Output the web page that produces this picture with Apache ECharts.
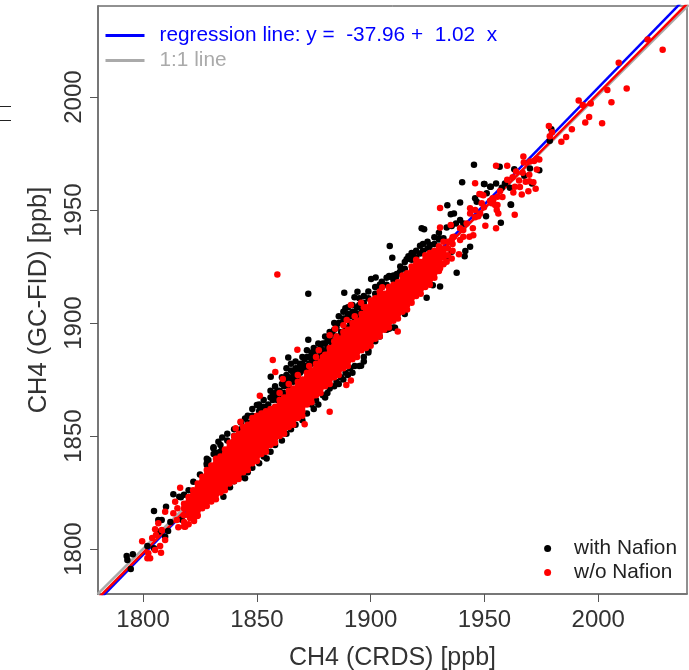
<!DOCTYPE html>
<html lang="en">
<head>
<meta charset="utf-8">
<script src="https://cdn.jsdelivr.net/npm/echarts@6/dist/echarts.min.js"></script>
<style>html,body{margin:0;padding:0;background:#fff}</style>
</head>
<body>
<div id="main" style="width:689px;height:670px"></div>
<script>
var xTicks = [1800, 1850, 1900, 1950, 2000];
var yTicks = [1800, 1850, 1900, 1950, 2000];

// line ends
var regressionLine = [[1780, 1776.8], [2040, 2045.5]];
var fitLine = [[1780, 1778], [2040, 2042.3]];
var oneToOneLine = [[1780, 1780], [2040, 2041]];

// single dots [x, y]
var blackDots = [
  [1792.8,1796.9],[1793.1,1795.1],[1795.5,1797.7],[1794.6,1791.2],[1801.9,1801.3],[1804.8,1816.8],[1813.3,1824.2],[1810.1,1818.7],
  [1825,1833],[1822.1,1829.8],[1815.9,1823.1],[1816.6,1822.9],[1806.7,1812.8],[1808.2,1812.8],[1806.7,1807.7],[1809.7,1805.4],[1804.8,1800.3],
  [1833.1,1847.5],[1834.8,1849.4],[1830.9,1844.6],[1828.7,1839.4],[1828,1837.2],[1832.6,1842.6],[1834.6,1843.8],[1844.8,1857.8],[1850,1863.7],
  [1851.4,1862.2],[1844.8,1831.3],[1854.3,1840.1],[1838.2,1827.3],[1835.3,1823.1],[1863.8,1884.8],[1856.1,1876.2],[1872.6,1892.6],[1872.6,1913],
  [1888.4,1913.4],[1894.2,1913.9],[1892.9,1911.4],[1888.9,1906.5],[1900.2,1919.5],[1902.2,1920.2],[1908.1,1920.8],[1911.5,1921.7],[1895.8,1881.1],
  [1908.1,1897.5],[1910.7,1897.9],[1908.4,1934.1],[1909.5,1928.9],[1908.5,1920.5],[1904.9,1918.3],[1911.2,1920.5],[1912.9,1922.7],[1918.8,1930],
  [1916.6,1929.6],[1915.8,1928.2],[1921.7,1934.2],[1926.1,1934.5],[1925.7,1933.3],[1922.4,1941.9],[1923.5,1941.5],[1920.2,1927.1],[1921.7,1930.8],
  [1924.6,1923.5],[1924.6,1911.2],[1927.3,1916.7],[1930.5,1916.2],[1937.8,1922.3],[1930.2,1937.5],[1932,1937.5],[1933.4,1942.3],[1935.6,1942.9],
  [1937.5,1944.1],[1939.3,1945.6],[1940.7,1944.1],[1935.2,1948.1],[1936.6,1948.5],[1933.7,1952.1],[1939.3,1953.4],[1945.9,1955.2],[1946.6,1953.7],
  [1940.2,1962.3],[1945.4,1970],[1943.7,1933.8],[1941.6,1931.9],[1941.3,1929.6],[1933.4,1929.3],[1935.6,1931.5],[1950,1961.5],[1952.5,1960.3],
  [1949.8,1961.5],[1952.8,1960.3],[1955.1,1961.8],[1959,1961.8],[1961.2,1959.9],[1957.6,1959.9],[1951,1957.4],[1956.7,1969.2],[1963.1,1968.1],
  [1970,1968.4],[1974.1,1967.6],[1967.5,1965.2],[1970.9,1961.8],[1961.5,1952.5],[1957.2,1944.4],[1961.7,1952.3],[1950.7,1947.3],[1979.4,1985.8],[1978.7,1980.7],
  [1818,1824],[1820,1826],[1817,1813],[1812,1812],[1811,1808]
];
var redDots = [
  [2028.3,2020.9],[2021.7,2025.5],[2009,2015.2],[2012.5,2003.8],[2004,2003.1],[2005.8,1997.7],[1991.4,1998.5],[1993.2,1996.5],[1996.7,1997.2],
  [1996,1991.2],[1994.3,1988.8],[2001.7,1988.4],[1988.4,1985.8],[1985.9,1982.3],[1983.8,1980.2],[1978.3,1987.2],[1979.7,1984.4],[1978.7,1982.7],
  [1967.1,1973.7],[1967.3,1971.1],[1970,1971.5],[1971.8,1971.7],[1973,1972.7],[1974.1,1972.4],[1955.1,1969.6],[1960,1969.6],[1973,1968],[1963.9,1967.1],
  [1969.7,1965.6],[1966.8,1966.5],[1962.4,1964.5],[1960,1963.4],[1965.2,1963.1],[1968.1,1962.5],[1969.7,1962.7],[1971.5,1962.3],[1963.4,1960.3],
  [1965.6,1960.2],[1972.5,1959.4],[1956.9,1958.4],[1969.3,1958.3],[1966.4,1956.9],[1962.7,1957.8],[1953.6,1955.2],[1955.7,1955.9],[1957.9,1955.8],
  [1949.5,1956.6],[1948.8,1953],[1955.7,1952.2],[1953.2,1953],[1949.8,1951.2],[1945.9,1961.9],[1930.5,1950.9],[1963.3,1947.9],[1955.1,1941.9],[1950.4,1943.1],
  [1930.5,1942.3],[1943.4,1938.2],[1945.1,1938.9],[1940.7,1938.2],[1938.8,1930.5],[1939.3,1941.9],[1935.2,1943.4],[1948.7,1956.9],[1947.8,1957.1],
  [1943.7,1950.8],[1945.9,1950],[1948.1,1948.5],[1953.9,1954.4],[1952.5,1954.1],[1955.4,1950],[1954.7,1952.2],[1956.1,1948.5],[1943.7,1948.5],[1945.9,1946.8],
  [1947.3,1947.3],[1942.2,1944.1],[1944.9,1941.9],[1940.7,1941.2],[1935.6,1936.7],[1936.6,1938.2],[1939.3,1936.7],[1930.5,1931.5],[1927.6,1930.8],
  [1933.4,1927.1],[1935.6,1928.6],[1932,1926.4],[1930.5,1924.2],[1927.6,1923.5],[1925.4,1920.5],[1859,1921.5],[1867.8,1888.2],[1857,1883.6],[1858.1,1878.3],
  [1861.4,1875.2],[1851.3,1867.8],[1842.8,1856.3],[1840.7,1853.5],[1882,1860.8],[1871,1855.2],[1889.3,1872.6],[1891.3,1874.6],[1911.9,1896.3],[1891.3,1908],
  [1889.5,1901.3],[1896.5,1903.5],[1895.8,1909],[1877.2,1888],[1884.4,1897.5],[1882,1894.6],[1905.1,1915.8],[1799.6,1803.4],[1802.3,1798.1],[1803.1,1795.9],
  [1801.9,1795.9],[1805.3,1799.6],[1807.5,1801.3],[1807.9,1798.4],[1804,1804.9],[1805.7,1806.2],[1805.3,1808.7],[1806.7,1811.4],[1809.7,1816.5],[1809.7,1804],
  [1808.2,1808.4],[1816.3,1827.1],[1814.1,1820.9],[1815.1,1818],[1813.3,1815.8],[1814.8,1812.8],[1815.5,1809.6],[1818.5,1809.9],[1822.4,1812.4],[1823.9,1814.6],[1820.7,1813.6],
  [1868,1877],[1873,1881],[1879,1885],[1885,1894],[1888,1899],[1893,1903],[1897,1907],[1864,1873],[1860,1869],[1876,1885]
];

// dense part of the cloud, each row is [x, y, y, y...]
var blackBand = [
  [1828,1840,1838],[1831,1842,1845],[1834,1846,1843],[1837,1848,1851,1829],[1840,1853,1850,1830],[1843,1856,1853,1832],[1846,1859,1856,1834],
  [1848,1862,1859,1836],[1851,1864,1861,1838],[1853,1866,1863,1841],[1856,1870,1867,1843],[1858,1872,1869,1846],[1861,1876,1873,1848],[1863,1880,1877,1851],
  [1865,1882,1879,1853],[1867,1883,1880,1855],[1870,1885,1882,1857],[1872,1888,1885,1860],[1875,1889,1886,1862],[1877,1891,1888,1864],[1880,1894,1891,1867],
  [1882,1896,1893,1871],[1884,1900,1897,1872],[1886,1903,1900,1873],[1888,1905,1902,1875],[1890,1907,1904,1877],[1892,1908,1905,1878],[1895,1908,1911,1881],
  [1897,1912,1909,1883],[1899,1914,1911,1887],[1902,1916,1913,1892],[1904,1917,1915,1894],[1907,1920,1917,1897],[1910,1921,1919,1898],[1913,1925,1922],
  [1915,1927,1924,1904],[1918,1931,1928],[1920,1932,1929],[1923,1935,1932],[1925,1936,1933],[1928,1938,1935],[1930,1940,1937],
  [1855,1864,1862],[1857,1866,1868],[1859,1868,1870,1866],[1860,1870,1868],[1862,1869,1872,1874],[1864,1872,1874,1876],[1866,1874,1876,1878],[1868,1876,1878,1880],
  [1869,1878,1880,1882],[1871,1879,1881,1884],[1873,1880,1882,1885],[1874,1882,1884,1887],[1876,1883,1885,1888],[1878,1884,1886,1889],[1879,1886,1888,1891],
  [1881,1887,1889,1892],[1883,1890,1892,1895],[1885,1892,1894,1898],[1887,1894,1896,1900],[1889,1896,1898,1902],[1891,1898,1900,1903],[1893,1900,1902,1905],
  [1894,1902,1904,1907],[1896,1904,1906,1909],
  [1874,1864],[1876,1866],[1879,1868],[1881,1869],[1885,1874],[1887,1876],[1889,1878],[1891,1880],[1893,1881],[1897,1885],[1899,1888]
];
var redBand = [
  [1818,1810,1812,1815,1818,1820],
  [1820,1811,1815,1817,1819,1821,1823],
  [1822,1814,1816,1818,1820,1822,1824,1826],
  [1824,1815,1817,1819,1821,1823,1825,1827,1829],
  [1826,1818,1820,1822,1824,1826,1828,1830,1832],
  [1828,1819,1821,1823,1825,1827,1829,1831,1833,1835],
  [1830,1821,1823,1825,1827,1829,1831,1833,1835,1837],
  [1832,1822,1824,1826,1828,1830,1832,1834,1836,1838,1840],
  [1834,1825,1827,1829,1831,1833,1835,1837,1839,1841],
  [1836,1826,1828,1830,1832,1834,1836,1838,1840,1842,1844],
  [1838,1829,1831,1833,1835,1837,1839,1841,1843,1845,1847],
  [1840,1830,1832,1834,1836,1838,1840,1842,1844,1846,1848,1850],
  [1842,1831,1833,1835,1837,1839,1841,1843,1845,1847,1849,1851],
  [1844,1834,1836,1838,1840,1842,1844,1846,1848,1850,1852,1854],
  [1846,1835,1837,1839,1841,1843,1845,1847,1849,1851,1853,1855],
  [1848,1838,1840,1842,1844,1846,1848,1850,1852,1854,1856,1858],
  [1850,1839,1841,1843,1845,1847,1849,1851,1853,1855,1857,1859],
  [1852,1842,1844,1846,1848,1850,1852,1854,1856,1858,1860],
  [1854,1843,1845,1847,1849,1851,1853,1855,1857,1859,1861],
  [1856,1846,1848,1850,1852,1854,1856,1858,1860,1862],
  [1858,1847,1849,1851,1853,1855,1857,1859,1861,1863],
  [1860,1850,1852,1854,1856,1858,1860,1862,1864,1866],
  [1862,1851,1853,1855,1857,1859,1861,1863,1865,1867],
  [1864,1854,1856,1858,1860,1862,1864,1866,1868,1870],
  [1866,1855,1857,1859,1861,1863,1865,1867,1869,1871],
  [1868,1858,1860,1862,1864,1866,1868,1870,1872,1874],
  [1870,1859,1861,1863,1865,1867,1869,1871,1873,1875],
  [1872,1864,1866,1868,1870,1872,1874,1876,1878],
  [1874,1865,1867,1869,1871,1873,1875,1877,1879],
  [1876,1868,1870,1872,1874,1876,1878,1880,1882],
  [1878,1869,1871,1873,1875,1877,1879,1881,1883],
  [1880,1872,1874,1876,1878,1880,1882,1884,1886],
  [1882,1873,1875,1877,1879,1881,1883,1885,1887,1889],
  [1884,1876,1878,1880,1882,1884,1886,1888,1890,1892],
  [1886,1877,1879,1881,1883,1885,1887,1889,1891,1893],
  [1888,1880,1882,1884,1886,1888,1890,1892,1894,1896],
  [1890,1881,1883,1885,1887,1889,1891,1893,1895,1897],
  [1892,1884,1886,1888,1890,1892,1894,1896,1898,1900],
  [1894,1885,1887,1889,1891,1893,1895,1897,1899,1901],
  [1896,1888,1890,1892,1894,1896,1898,1900,1902,1904],
  [1898,1889,1891,1893,1895,1897,1899,1901,1903,1905,1907],
  [1900,1890,1892,1894,1896,1898,1900,1902,1904,1906,1908,1910],
  [1902,1893,1895,1897,1899,1901,1903,1905,1907,1909,1911],
  [1904,1894,1896,1898,1900,1902,1904,1906,1908,1910,1912,1914],
  [1906,1897,1899,1901,1903,1905,1907,1909,1911,1913],
  [1908,1898,1900,1902,1904,1906,1908,1910,1912,1914,1916],
  [1910,1901,1903,1905,1907,1909,1911,1913,1915,1917],
  [1912,1902,1904,1906,1908,1910,1912,1914,1916,1918],
  [1914,1905,1907,1909,1911,1913,1915,1917,1919,1921],
  [1916,1906,1908,1910,1912,1914,1916,1918,1920,1922],
  [1918,1909,1911,1913,1915,1917,1919,1921,1923,1925],
  [1920,1912,1914,1916,1918,1920,1922,1924,1926,1928],
  [1922,1913,1915,1917,1919,1921,1923,1925,1927],
  [1924,1916,1918,1920,1922,1924,1926,1928,1930],
  [1926,1917,1919,1921,1923,1925,1927,1929,1931],
  [1928,1920,1922,1924,1926,1928,1930,1932],
  [1930,1923,1926,1928,1930,1932,1934],
  [1932,1926,1929,1931,1933,1936],
  [1934,1930,1933,1936],
  [1936,1932,1935,1938]
];

function expandRows(rows) {
  var out = [];
  rows.forEach(function (row) {
    row.slice(1).forEach(function (y) { out.push([row[0], y]); });
  });
  return out;
}

function plainNumber(v) { return String(v); }

var regressionName = 'regression line: y =  -37.96 +  1.02  x';
var oneToOneName = '1:1 line';

var myChart = echarts.init(document.getElementById('main'));

var fontFamily = '"Liberation Sans", Arial, sans-serif';

var option = {
  animation: false,
  backgroundColor: '#fff',
  textStyle: { fontFamily: fontFamily },
  grid: { left: 98, top: 6, width: 589, height: 588, show: true, borderColor: '#222', borderWidth: 1, backgroundColor: '#fff', outerBoundsMode: 'none' },
  legend: [
    {
      left: 99, top: 20, orient: 'vertical', itemWidth: 39, itemHeight: 3, itemGap: 4, selectedMode: false,
      lineStyle: { width: 3 },
      data: [
        { name: regressionName, textStyle: { color: '#0000ff' } },
        { name: oneToOneName, textStyle: { color: '#aaaaaa' } }
      ],
      textStyle: { fontSize: 20.8, padding: [0, 0, 0, 10], fontFamily: fontFamily }
    },
    {
      right: 7, top: 533, orient: 'vertical', itemWidth: 7, itemHeight: 7, itemGap: 3, selectedMode: false,
      data: [
        { name: 'with Nafion', itemStyle: { color: '#000' } },
        { name: 'w/o Nafion', itemStyle: { color: '#ff0000' } }
      ],
      textStyle: { fontSize: 20.8, color: '#222', padding: [0, 0, 0, 18], fontFamily: fontFamily }
    }
  ],
  xAxis: {
    type: 'value', min: 1780.2, max: 2039,
    name: 'CH4 (CRDS) [ppb]', nameLocation: 'middle', nameGap: 52,
    nameTextStyle: { fontSize: 25, color: '#333', fontFamily: fontFamily },
    splitLine: { show: false },
    axisLine: { show: true, onZero: false, lineStyle: { color: '#777', width: 2 } },
    axisTick: { show: true, length: 8, customValues: xTicks, lineStyle: { color: '#555', width: 1 } },
    axisLabel: { fontSize: 24, color: '#333', margin: 14, customValues: xTicks, formatter: plainNumber, fontFamily: fontFamily }
  },
  yAxis: {
    type: 'value', min: 1780.1, max: 2040.3,
    name: 'CH4 (GC-FID) [ppb]', nameLocation: 'middle', nameGap: 46,
    nameTextStyle: { fontSize: 25.5, color: '#333', fontFamily: fontFamily },
    splitLine: { show: false },
    axisLine: { show: true, onZero: false, lineStyle: { color: '#777', width: 2 } },
    axisTick: { show: true, length: 8, customValues: yTicks, lineStyle: { color: '#555', width: 1 } },
    axisLabel: { fontSize: 24, color: '#333', rotate: 90, margin: 12, customValues: yTicks, formatter: plainNumber, fontFamily: fontFamily }
  },
  series: [
    { name: oneToOneName, type: 'line', z: 1, data: oneToOneLine, symbol: 'none', silent: true, lineStyle: { color: '#aaaaaa', width: 2.5 }, itemStyle: { color: '#aaaaaa' } },
    { name: regressionName, type: 'line', z: 1, data: regressionLine, symbol: 'none', silent: true, lineStyle: { color: '#0000ff', width: 2.5 }, itemStyle: { color: '#0000ff' } },
    { name: 'fit', type: 'line', z: 1, data: fitLine, symbol: 'none', silent: true, lineStyle: { color: '#ff0000', width: 2.5 } },
    { name: 'with Nafion', type: 'scatter', z: 3, data: blackDots.concat(expandRows(blackBand)), symbolSize: 6.5, silent: true, itemStyle: { color: '#000', opacity: 1 } },
    { name: 'w/o Nafion', type: 'scatter', z: 4, data: redDots.concat(expandRows(redBand)), symbolSize: 6.5, silent: true, itemStyle: { color: '#ff0000', opacity: 1 } }
  ],
  graphic: [
    { type: 'line', shape: { x1: 0, y1: 106.5, x2: 11, y2: 106.5 }, style: { stroke: '#222', lineWidth: 1 } },
    { type: 'line', shape: { x1: 0, y1: 120.5, x2: 11, y2: 120.5 }, style: { stroke: '#222', lineWidth: 1 } }
  ]
};

myChart.setOption(option);
</script>
</body>
</html>
